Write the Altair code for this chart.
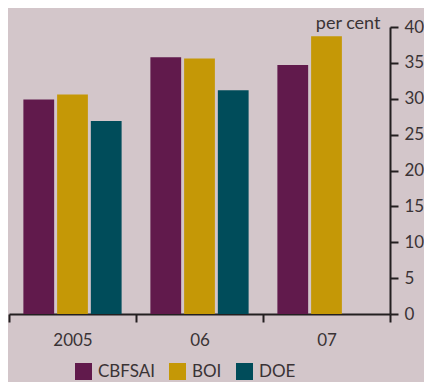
import altair as alt
import pandas as pd

years = ["2005", "06", "07"]
series = ["CBFSAI", "BOI", "DOE"]
cbfsai = [29.9, 35.8, 34.7]
boi = [30.6, 35.6, 38.7]
doe = [26.9, 31.2, None]
colors = ["#611A4C", "#C59806", "#004C5A"]
y_ticks = [0, 5, 10, 15, 20, 25, 30, 35, 40]

rows = []
for name, vals in zip(series, [cbfsai, boi, doe]):
    for yr, v in zip(years, vals):
        if v is not None:
            rows.append({"year": yr, "series": name, "value": v})
df = pd.DataFrame(rows)

FONT = "Lato"
TXT = "#3A3335"
AX = "#231F20"

chart = alt.Chart(df).mark_bar().encode(
    x=alt.X("year:N", sort=years,
            scale=alt.Scale(paddingInner=0, paddingOuter=0),
            axis=alt.Axis(title=None, labelAngle=0, tickBand="extent",
                          domainColor=AX, domainWidth=2, tickColor=AX,
                          tickWidth=2, tickSize=8, labelFontSize=17,
                          labelColor=TXT, labelFont=FONT, labelPadding=10)),
    xOffset=alt.XOffset("series:N", sort=series,
                        scale=alt.Scale(domain=series, paddingInner=0.088, paddingOuter=0.4265)),
    y=alt.Y("value:Q",
            scale=alt.Scale(domain=[0, 40], nice=False),
            axis=alt.Axis(orient="right", values=y_ticks, grid=False,
                          title="per cent", titleAngle=0, titleAlign="right",
                          titleBaseline="alphabetic", titleX=-10, titleY=1,
                          titleFont=FONT, titleFontSize=18, titleFontWeight="normal",
                          titleColor=TXT,
                          domainColor=AX, domainWidth=2, tickColor=AX,
                          tickWidth=2, tickSize=8, labelFontSize=17,
                          labelColor=TXT, labelFont=FONT, labelPadding=6)),
    color=alt.Color("series:N", sort=series,
                    scale=alt.Scale(domain=series, range=colors),
                    legend=alt.Legend(title=None, orient="none", direction="horizontal",
                                      legendX=66, legendY=336, symbolType="square",
                                      symbolSize=289, symbolStrokeWidth=0,
                                      symbolOpacity=1, labelFontSize=17,
                                      labelFont=FONT, labelColor=TXT,
                                      labelOffset=6, columnPadding=14)),
).properties(
    width=381, height=287,
    autosize=alt.AutoSizeParams(type="none"),
    padding={"left": 1, "top": 19, "right": 34, "bottom": 68},
    background="#D3C6CA",
).configure_view(stroke=None)

chart.save("out.html", embed_options={"renderer": "svg", "actions": False})
